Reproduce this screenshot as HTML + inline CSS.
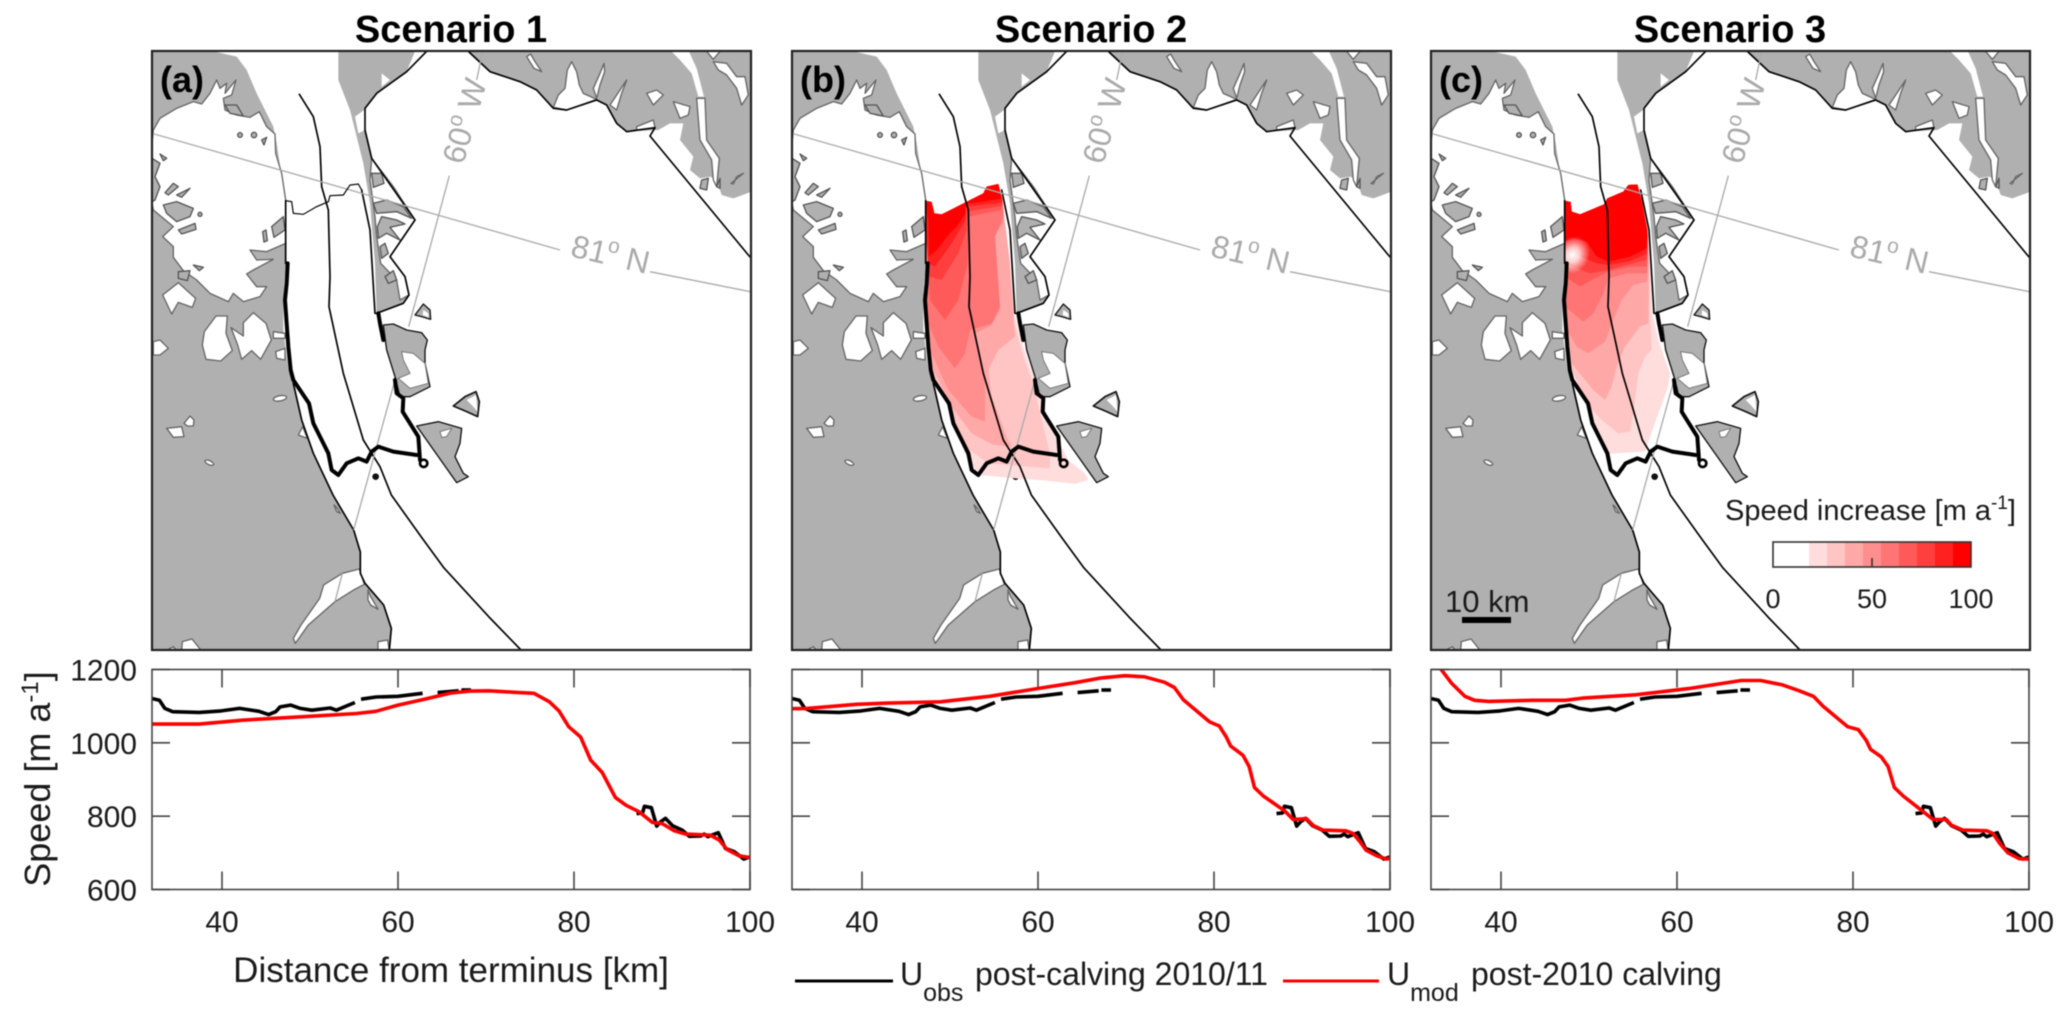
<!DOCTYPE html>
<html lang="en">
<head>
<meta charset="utf-8">
<title>Speed increase scenarios</title>
<style>
html,body{margin:0;padding:0;background:#fff}
svg{display:block;filter:blur(.45px)}
text{font-family:"Liberation Sans",sans-serif;fill:#1a1a1a}
.land{fill:#b0b0b0;stroke:none}
.hole{fill:#fff;stroke:#666;stroke-width:4;stroke-linejoin:round}
.isl{fill:#b0b0b0;stroke:#555;stroke-width:4;stroke-linejoin:round}
.coast{fill:none;stroke:#000;stroke-width:5;stroke-linejoin:round;stroke-linecap:round}
.grid{fill:none;stroke:#aaa;stroke-width:4}
.glabel{fill:#aaa;font-size:32px}
.thick{fill:none;stroke:#000;stroke-width:12;stroke-linejoin:round;stroke-linecap:round}
.border{fill:none;stroke:#222;stroke-width:2.2}
</style>
</head>
<body>
<svg id="figure" xmlns="http://www.w3.org/2000/svg" width="2067" height="1019" viewBox="0 0 2067 1019">
<defs>
<clipPath id="clip-map"><rect x="152" y="51" width="599" height="599"/></clipPath>
<clipPath id="clip-domain-b"><polygon points="990,512 1010,516 1018,550 1040,553 1110,518 1165,490 1175,470 1210,462 1222,510 1245,700 1258,850 1285,950 1320,1050 1345,1130 1395,1240 1420,1290 1470,1330 1480,1350 1440,1362 1350,1352 1260,1345 1150,1335 1110,1270 1070,1150 1010,1040 995,960 985,800 993,700"/></clipPath>
<clipPath id="clip-domain-c"><polygon points="103,152 122,156 125,185 150,193 222,163 232,145 280,125 295,105 322,103 335,150 352,240 368,490 385,570 420,670 415,710 375,820 345,905 230,912 180,790 125,660 108,480 105,300"/></clipPath>
<radialGradient id="white-spot"><stop offset="0" stop-color="#fff"/><stop offset=".4" stop-color="#fff" stop-opacity=".75"/><stop offset="1" stop-color="#fff" stop-opacity="0"/></radialGradient>

<g id="basemap" transform="translate(110,30) scale(.33333)">
  <path class="land" d="M126,64 L310,64 L380,80 L410,120 L440,190 L470,250 L490,290 L500,340 L512,420 L527,510 L527,700 L520,800 L520,900 L535,1020 L550,1060 L575,1170 L610,1270 L669,1395 L731,1500 L751,1566 L751,1630 L765,1660 L821,1725 L844,1795 L838,1860 L126,1860Z"/>
  <path class="land" d="M685,64 L915,64 L890,125 L800,190 L765,235 L765,300 L785,385 L915,570 L840,680 L885,740 L897,795 L880,820 L800,850 L795,700 L780,520 L760,400 L720,240 L685,150Z"/>
  <path class="land" d="M1075,64 L1140,125 L1230,155 L1280,180 L1330,235 L1370,240 L1460,210 L1490,225 L1520,280 L1550,305 L1645,300 L1680,280 L1720,280 L1710,330 L1750,380 L1740,420 L1770,445 L1800,440 L1820,450 L1835,495 L1870,505 L1925,485 L1925,64Z"/>

  <path class="hole" d="M130,300 L150,265 L200,235 L250,215 L275,222 L300,190 L320,150 L330,175 L350,160 L345,190 L378,150 L365,195 L340,205 L345,240 L380,255 L420,262 L448,245 L470,290 L495,312 L497,370 L515,430 L527,510 L527,640 L470,665 L420,660 L440,690 L490,688 L430,720 L410,732 L440,770 L470,770 L450,800 L400,815 L370,790 L355,815 L300,790 L260,750 L220,722 L190,682 L190,650 L158,620 L190,590 L130,540 L122,500 L122,380Z"/>
  <g class="isl">
    <path d="M160,525 L200,515 L250,535 L240,560 L200,575 L170,550Z"/>
    <path d="M165,488 L190,460 L205,470 L175,495Z"/>
    <path d="M200,495 L240,475 L215,502Z"/>
    <path d="M126,385 L150,400 L135,440 L150,470 L135,510 L126,515Z"/>
    <path d="M150,372 L170,385 L160,392Z"/>
    <path d="M458,605 L468,600 L472,632 L462,636Z"/>
    <path d="M485,590 L520,560 L525,600 L492,622Z"/>
    <path d="M345,225 L380,225 L400,258 L360,250Z"/>
    <path d="M205,600 L255,580 L258,598 L215,612Z"/>
    <path d="M250,705 L280,712 L268,722Z"/>
    <path d="M205,725 L240,722 L232,752 L205,745Z"/>
    <path d="M455,330 L470,322 L462,345Z"/>
    <circle cx="390" cy="315" r="7"/><circle cx="432" cy="315" r="8"/><circle cx="270" cy="553" r="6"/>
  </g>
  <g class="hole">
    <path d="M283,905 L318,858 L352,858 L348,910 L367,962 L332,993 L288,988 L277,945Z"/>
    <path d="M400,878 L430,848 L468,880 L484,930 L452,988 L425,962 L395,988 L383,945 L363,893 L400,918Z"/>
    <path d="M130,935 L150,930 L175,955 L150,975 L130,975Z"/>
    <path d="M158,795 L205,758 L257,805 L247,832 L205,817 L185,852Z"/>
    <path d="M490,905 L525,910 L525,925 L490,925Z"/>
    <path d="M497,965 L525,955 L525,990 L500,985Z"/>
    <ellipse cx="510" cy="1105" rx="20" ry="8" transform="rotate(-10 510 1105)"/>
    <path d="M170,1195 L215,1190 L222,1220 L190,1222Z"/>
    <path d="M222,1180 L240,1158 L252,1170 L250,1188 L232,1188Z"/>
    <ellipse cx="298" cy="1298" rx="14" ry="6" transform="rotate(25 298 1298)"/>
    <path d="M565,1215 L578,1190 L592,1225Z"/>
    <path d="M748,1617 L697,1630 L641,1665 L629,1705 L573,1785 L550,1825 L556,1840 L595,1785 L675,1715 L731,1680 L763,1663Z"/>
    <path d="M774,1680 L782,1700 L804,1738 L782,1725 L774,1710Z"/>
    <path d="M804,1862 L804,1835 L833,1830 L838,1862Z"/>
    <path d="M167,1862 L190,1850 L200,1862Z"/>
    <path d="M215,1862 L217,1835 L246,1827 L274,1862Z"/>
    <path d="M672,1425 L680,1445 L691,1450 L678,1430Z"/>
    <path d="M735,260 L765,238 L765,300 L745,310Z" stroke="none"/>
    <path d="M815,130 L840,150 L815,170Z" stroke="none"/>
    <path d="M785,385 L850,470 L915,570 L840,680 L885,740 L897,795 L870,810 L860,750 L812,700 L800,620 L795,560 L780,450Z"/>
  </g>
  <g class="isl">
    <path d="M790,520 L830,510 L880,530 L905,565 L860,545 L800,550Z"/>
    <path d="M802,590 L815,560 L860,570 L885,582 L840,592 L870,630 L830,610 L805,625Z"/>
    <path d="M785,430 L815,430 L822,460 L790,472Z"/>
    <path d="M825,740 L850,722 L860,750 L835,760Z"/>
    <path d="M810,650 L825,640 L835,670 L815,685Z"/>
  </g>
  <g class="hole">
    <path d="M1330,232 L1345,195 L1365,175 L1372,120 L1385,95 L1400,125 L1408,165 L1420,190 L1460,208 L1370,240Z"/>
    <path d="M1450,175 L1470,130 L1482,100 L1484,125 L1470,165 L1460,205Z"/>
    <path d="M1500,225 L1550,150 L1535,190 L1520,240Z"/>
    <path d="M1610,190 L1640,180 L1660,195 L1630,225Z"/>
    <path d="M1690,215 L1740,230 L1735,255 L1710,265Z"/>
    <path d="M1580,290 L1630,270 L1635,293 L1580,300Z"/>
    <path d="M1760,205 L1785,205 L1790,330 L1828,385 L1820,470 L1810,450 L1805,390 L1770,330Z"/>
    <path d="M1810,95 L1850,100 L1880,140 L1905,140 L1915,195 L1895,225 L1880,175 L1850,135 L1825,120Z"/>
    <path d="M1863,460 L1900,430 L1880,440 L1870,462Z"/>
    <path d="M1250,80 L1262,72 L1275,95 L1295,125 L1272,115Z"/>
    <path d="M1680,60 L1735,60 L1760,115 L1782,200 L1765,200 L1745,130 L1710,90Z" stroke="none"/>
    <path d="M1790,64 L1830,64 L1810,88Z"/>
  </g>
  <g class="isl">
    <path d="M1775,450 L1795,445 L1790,480 L1770,475Z"/>
    <path d="M1820,470 L1830,445 L1830,475Z"/>
  </g>
  <g>
    <path d="M820,885 L850,882 L890,900 L935,908 L952,930 L945,960 L945,1000 L960,1070 L900,1100 L870,1100 L855,1040 L830,960Z" fill="#b0b0b0" stroke="#111" stroke-width="4" stroke-linejoin="round"/>
    <path d="M875,965 L910,970 L945,1000 L955,1060 L900,1075 L865,1045 L900,1030 L880,990Z" fill="#fff" stroke="#777" stroke-width="3"/>
    <path d="M1030,1128 L1065,1100 L1098,1085 L1108,1115 L1103,1160 L1070,1145Z" fill="#b0b0b0" stroke="#111" stroke-width="5" stroke-linejoin="round"/>
    <path d="M1070,1110 L1098,1095 L1103,1145 L1085,1125Z" fill="#fff"/>
    <path d="M920,1188 L985,1175 L1055,1195 L1050,1240 L1035,1280 L1060,1330 L1075,1340 L1040,1358Z" fill="#b0b0b0" stroke="#111" stroke-width="4" stroke-linejoin="round"/>
    <path d="M990,1205 L1025,1195 L1010,1220 L995,1222Z" fill="#fff" stroke="#777" stroke-width="3"/>
    <path d="M915,855 L940,822 L960,840 L962,868 L935,860Z" fill="#b0b0b0" stroke="#111" stroke-width="4" stroke-linejoin="round"/>
    <path d="M940,840 L955,850 L955,862 L938,855Z" fill="#fff"/>
    <circle cx="797" cy="1340" r="10" fill="#111"/>
  </g>
  <path class="coast" d="M550,1060 L575,1170 L610,1270 L669,1395 L731,1500 L751,1566 L751,1630 L765,1660 L821,1725 L844,1795 L838,1860"/>
  <path class="coast" d="M950,64 L890,125 L800,190 L765,235 L765,300 L785,385 L915,570 L840,680 L885,740 L897,795 L880,820 L800,850"/>
  <path class="coast" d="M1075,64 L1140,125 L1230,155 L1280,180 L1330,235 L1370,240 L1460,210 L1490,225 L1520,280 L1550,305 L1635,293 L1620,318 L1915,675 L1930,692"/>
</g>

<g id="overlay" transform="translate(110,30) scale(.33333)">
  <path class="coast" d="M568,193 L610,260 L630,350 L635,470 L655,540 L660,740 L657,830 L700,1030 L760,1230 L810,1310 L844,1395 L934,1521 L1002,1614 L1137,1761 L1233,1860"/>
  <path class="coast" d="M527,512 L527,700"/>
  <path class="coast" d="M755,480 L780,600 L795,850 L805,850"/>
  <path class="grid" d="M126,310 L1350,660"/>
  <path class="grid" d="M1620,725 L1925,786"/>
  <path class="grid" d="M1100,150 L1118,64"/>
  <path class="grid" d="M1018,437 L896,890"/>
  <path class="grid" d="M855,1050 L731,1500"/>
  <path class="grid" d="M697,1630 L675,1715"/>
  <path class="thick" d="M533,700 L530,760 L525,810 L530,880 L535,950 L542,1020 L550,1050 L570,1080 L597,1120 L610,1180 L630,1220 L655,1270 L665,1320 L685,1335 L710,1300 L745,1285 L770,1295 L785,1265 L805,1250 L850,1265 L920,1275"/>
  <path class="thick" d="M930,1290 L925,1220 L878,1145 L880,1105 L860,1090 L855,1050"/>
  <circle cx="941" cy="1300" r="11" fill="none" stroke="#000" stroke-width="8"/>
  <path class="thick" d="M805,850 L810,880 L820,930"/>
</g>
</defs>

<text x="451" y="42" text-anchor="middle" font-size="38" font-weight="bold" style="fill:#000">Scenario 1</text>
<text x="1091" y="42" text-anchor="middle" font-size="38" font-weight="bold" style="fill:#000">Scenario 2</text>
<text x="1730" y="42" text-anchor="middle" font-size="38" font-weight="bold" style="fill:#000">Scenario 3</text>

<g>
  <g clip-path="url(#clip-map)">
    <use href="#basemap"/>
    <use href="#overlay"/>
    <path transform="translate(110,30) scale(.33333)" fill="none" stroke="#000" stroke-width="3.5" d="M527,512 L545,515 L550,550 L580,553 L620,530 L655,515 L660,497 L700,495 L720,465 L745,462 L755,480"/>
    <text class="glabel" transform="translate(608,265) rotate(13)" text-anchor="middle">81<tspan font-size="21" dy="-13">o</tspan><tspan dy="13"> N</tspan></text>
    <text class="glabel" transform="translate(475,124) rotate(-74)" text-anchor="middle">60<tspan font-size="21" dy="-13">o</tspan><tspan dy="13"> W</tspan></text>
  </g>
  <rect class="border" x="152" y="51" width="599" height="599"/>
  <text x="160" y="92" font-size="36" font-weight="bold" style="fill:#000">(a)</text>
</g>

<g transform="translate(640,0)">
  <g clip-path="url(#clip-map)">
    <use href="#basemap"/>
    <g transform="translate(-45,30) scale(.33333)">
    <g clip-path="url(#clip-domain-b)">
      <polygon fill="#ffdddd" points="980,450 1230,450 1245,700 1258,850 1285,950 1320,1050 1345,1130 1395,1240 1420,1290 1470,1330 1480,1350 1440,1362 1350,1352 1260,1345 1150,1335 1110,1270 1070,1150 1010,1040 995,960 985,800"/>
      <polygon fill="#ffc4c4" points="980,450 1230,450 1245,700 1258,880 1285,980 1315,1060 1340,1170 1365,1270 1365,1315 1300,1310 1180,1300 1110,1250 1070,1150 1010,1040 998,950"/>
      <polygon fill="#ffa8a8" points="980,450 1230,450 1245,700 1260,920 1210,960 1180,1020 1190,1100 1235,1220 1250,1250 1195,1245 1130,1210 1070,1130 1005,1000"/>
      <polygon fill="#ff8e8e" points="980,450 1230,450 1225,580 1195,620 1210,760 1215,840 1190,885 1140,910 1170,1060 1170,1175 1130,1160 1060,1080 1000,950"/>
      <polygon fill="#ff7474" points="980,450 1230,450 1225,560 1200,620 1215,830 1190,880 1125,900 1110,970 1080,1015 1030,950 1000,880"/>
      <polygon fill="#ff5a5a" points="980,450 1230,450 1220,540 1120,560 1118,700 1090,810 1050,870 1005,810 1000,700"/>
      <polygon fill="#ff3e3e" points="980,450 1230,450 1222,528 1115,545 1115,600 1090,670 1040,750 1003,740"/>
      <polygon fill="#ff2020" points="980,450 1230,450 1222,518 1112,530 1112,570 1070,640 1020,710 1000,700"/>
      <polygon fill="#ff0000" points="980,450 1230,450 1222,506 1160,515 1112,522 1112,550 1085,590 1060,615 1025,660 1003,680 1000,570"/>
    </g>
    </g>
    <use href="#overlay"/>
    <text class="glabel" transform="translate(608,265) rotate(13)" text-anchor="middle">81<tspan font-size="21" dy="-13">o</tspan><tspan dy="13"> N</tspan></text>
    <text class="glabel" transform="translate(475,124) rotate(-74)" text-anchor="middle">60<tspan font-size="21" dy="-13">o</tspan><tspan dy="13"> W</tspan></text>
  </g>
  <rect class="border" x="152" y="51" width="599" height="599"/>
  <text x="160" y="92" font-size="36" font-weight="bold" style="fill:#000">(b)</text>
</g>

<g transform="translate(1279,0)">
  <g clip-path="url(#clip-map)">
    <use href="#basemap"/>
    <g transform="translate(251,150) scale(.33333)">
    <g clip-path="url(#clip-domain-c)">
      <polygon fill="#ffdddd" points="95,90 360,90 368,490 385,570 420,670 415,710 375,820 345,905 230,912 180,790 125,660 100,480"/>
      <polygon fill="#ffc4c4" points="95,90 360,90 360,490 365,600 345,620 325,670 310,790 300,845 265,850 215,810 170,760 125,660 100,480"/>
      <polygon fill="#ffa8a8" points="95,90 360,90 355,520 330,530 285,590 260,650 245,710 225,750 190,720 125,640 100,480"/>
      <polygon fill="#ff8e8e" points="95,90 360,90 352,395 310,405 275,450 250,510 225,575 175,610 140,590 105,530"/>
      <polygon fill="#ff7474" points="95,90 360,90 352,370 290,370 235,385 220,430 190,490 160,515 105,470"/>
      <polygon fill="#ff5a5a" points="95,90 360,90 350,350 300,350 235,365 185,390 150,410 105,380"/>
      <polygon fill="#ff3e3e" points="95,90 360,90 350,330 290,345 235,360 180,370 105,340"/>
      <polygon fill="#ff2020" points="95,90 360,90 350,312 295,335 235,345 200,340 105,300"/>
      <polygon fill="#ff0000" points="95,90 360,90 350,295 300,320 235,335 200,320 170,275 130,265 105,275"/>
      <ellipse cx="128" cy="315" rx="50" ry="58" fill="url(#white-spot)" transform="rotate(30 128 315)"/>
    </g>
    </g>
    <use href="#overlay"/>
    <text class="glabel" transform="translate(608,265) rotate(13)" text-anchor="middle">81<tspan font-size="21" dy="-13">o</tspan><tspan dy="13"> N</tspan></text>
    <text class="glabel" transform="translate(475,124) rotate(-74)" text-anchor="middle">60<tspan font-size="21" dy="-13">o</tspan><tspan dy="13"> W</tspan></text>
  </g>
  <rect class="border" x="152" y="51" width="599" height="599"/>
  <text x="160" y="92" font-size="36" font-weight="bold" style="fill:#000">(c)</text>
</g>

<g>
  <text x="1445" y="612" font-size="31">10 km</text>
  <rect x="1462" y="617" width="49" height="6" fill="#000"/>
</g>

<g>
  <text x="1725" y="520" font-size="29">Speed increase [m a<tspan font-size="19" dy="-11">-1</tspan><tspan dy="11">]</tspan></text>
  <rect x="1773" y="542" width="36" height="25" fill="#fff"/>
  <rect x="1809" y="542" width="18.5" height="25" fill="#ffdddd"/>
  <rect x="1827" y="542" width="18.5" height="25" fill="#ffc4c4"/>
  <rect x="1845" y="542" width="18.5" height="25" fill="#ffa8a8"/>
  <rect x="1863" y="542" width="18" height="25" fill="#ff8e8e"/>
  <rect x="1881" y="542" width="18" height="25" fill="#ff7474"/>
  <rect x="1899" y="542" width="18" height="25" fill="#ff5a5a"/>
  <rect x="1917" y="542" width="18" height="25" fill="#ff3e3e"/>
  <rect x="1935" y="542" width="18" height="25" fill="#ff2020"/>
  <rect x="1953" y="542" width="18" height="25" fill="#ff0000"/>
  <rect x="1773" y="542" width="198" height="25" fill="none" stroke="#333" stroke-width="1.6"/>
  <line x1="1872" x2="1872" y1="558" y2="567" stroke="#333" stroke-width="1.6"/>
  <text x="1773" y="608" font-size="27" text-anchor="middle">0</text>
  <text x="1872" y="608" font-size="27" text-anchor="middle">50</text>
  <text x="1971" y="608" font-size="27" text-anchor="middle">100</text>
</g>

<g id="profiles"></g>

<text transform="translate(50,779) rotate(-90)" text-anchor="middle" font-size="36">Speed [m a<tspan font-size="24" dy="-12">-1</tspan><tspan dy="12">]</tspan></text>
<text x="451" y="982" text-anchor="middle" font-size="35">Distance from terminus [km]</text>

<g>
  <line x1="795" x2="893" y1="981" y2="981" stroke="#000" stroke-width="3"/>
  <text x="900" y="985" font-size="32">U<tspan font-size="25" dy="16">obs</tspan><tspan dy="-16" x="975">post-calving 2010/11</tspan></text>
  <line x1="1283" x2="1379" y1="981" y2="981" stroke="#f00" stroke-width="3"/>
  <text x="1387" y="985" font-size="32">U<tspan font-size="25" dy="16">mod</tspan><tspan dy="-16" x="1471">post-2010 calving</tspan></text>
</g>
</svg>

<script>
const tickKm = [40, 60, 80, 100];
const tickSpeed = [600, 800, 1000, 1200];
const obsKm = [32, 32.9, 33.5, 34.4, 37.4, 39.9, 42, 44.2, 45.3, 46.1, 46.6, 47.8, 48.9, 50.2, 52.3, 53, 55.1, null, 55.8, 57.5, 60, 62.8, null, 64.5, 66.9, null, 67.2, 68.3, null, 87.1, 87.8, 88, 88.8, 89.4, 89.85, 90.4, 91.2, 92.3, 93.1, 94.4, 94.8, 95.2, 96.4, 97.2, 98.2, 99.3, 100];
const obsSpeed = [1121, 1116, 1094, 1085, 1083, 1087, 1094, 1086, 1077, 1085, 1098, 1103, 1094, 1089, 1095, 1089, 1110, null, 1119, 1125, 1127, 1135, null, 1137, 1142, null, 1144, 1144, null, 807, 809, 827, 823, 773, 785, 794, 774, 762, 745, 746, 751, 744, 755, 712, 703, 683, 689];
const modKmA = [32, 37.4, 42.5, 49, 55.3, 57.5, 60, 63, 66, 68.2, 70.3, 73.75, 75.45, 77.2, 78.3, 79.4, 80.75, 81.9, 83.2, 84.7, 85.9, 87.4, 88.9, 90, 91.4, 92.7, 95.5, 96.5, 97.4, 98.75, 100];
const modSpeedA = [1051, 1051, 1062, 1071, 1080, 1086, 1103, 1119, 1136, 1141, 1142, 1137, 1135, 1112, 1087, 1044, 1016, 953, 919, 851, 830, 812, 783, 780, 760, 751, 748, 735, 709, 692, 687];
const modKmB = [32, 33.8, 39.4, 43.6, 48.9, 54.5, 59.9, 64.2, 67.2, 69.9, 72.1, 74.4, 75.5, 76.5, 79.5, 80.6, 81.4, 81.9, 83.3, 84, 84.6, 85.6, 88, 89, 90.5, 91.3, 92.4, 95, 95.8, 96.6, 97.3, 98.5, 99.6, 100];
const modSpeedB = [1093, 1094, 1105, 1109, 1112, 1127, 1148, 1164, 1177, 1183, 1180, 1165, 1151, 1118, 1057, 1046, 1016, 991, 966, 935, 878, 855, 815, 791, 793, 774, 762, 760, 753, 730, 707, 692, 683, 685];
const modKmC = [32.6, 33.2, 34.4, 35.9, 37, 38.6, 43.5, 47.3, 49.3, 55.3, 61.3, 67.3, 69.5, 72, 73.9, 75.5, 76.6, 79.4, 80.6, 81.5, 82, 83.2, 84, 84.7, 85.7, 88, 89.1, 90.6, 91.2, 92.5, 95.2, 95.9, 96.7, 97.6, 98.9, 100];
const modSpeedC = [1225, 1200, 1162, 1127, 1116, 1113, 1116, 1116, 1122, 1131, 1148, 1170, 1170, 1158, 1142, 1127, 1100, 1044, 1036, 1007, 982, 962, 935, 878, 855, 812, 791, 791, 775, 762, 760, 753, 725, 700, 684, 683];

const SVGNS = 'http://www.w3.org/2000/svg';
const axisTop = 669.5, axisBottom = 889.5, axisWidth = 598;
const speedMin = 600, speedMax = 1200, kmMax = 100, pxPerKm = 8.8;
const kmMin = kmMax - axisWidth / pxPerKm;
const root = document.getElementById('profiles');

function mk(tag, parent) {
  const el = document.createElementNS(SVGNS, tag);
  parent.appendChild(el);
  return el;
}
function ys(v) { return axisTop + (speedMax - v) / (speedMax - speedMin) * (axisBottom - axisTop); }
function xs(km, left) { return left + (km - kmMin) * pxPerKm; }

function pointsFor(kms, vals, left) {
  const segs = [[]];
  kms.forEach(function (k, i) {
    if (k === null) { segs.push([]); return; }
    segs[segs.length - 1].push(xs(k, left).toFixed(1) + ',' + ys(vals[i]).toFixed(1));
  });
  return segs;
}

function drawAxes(left, key, showY) {
  const g = mk('g', root);
  
  

  const clipId = 'clip-profile-' + key;
  const cp = mk('clipPath', g);
  cp.setAttribute('id', clipId);
  const cr = mk('rect', cp);
  cr.setAttribute('x', left);
  cr.setAttribute('y', axisTop);
  cr.setAttribute('width', axisWidth);
  cr.setAttribute('height', axisBottom - axisTop);

  tickKm.forEach(function (k) {
    const x = xs(k, left);
    [[axisBottom, axisBottom - 18], [axisTop, axisTop + 18]].forEach(function (p) {
      const t = mk('line', g);
      
      
      t.setAttribute('x1', x);
      t.setAttribute('x2', x);
      t.setAttribute('y1', p[0]);
      t.setAttribute('y2', p[1]);
      t.setAttribute('stroke', '#444');
      t.setAttribute('stroke-width', '1.6');
    });
    const lab = mk('text', g);
    
    
    lab.setAttribute('x', x);
    lab.setAttribute('y', 932);
    lab.setAttribute('text-anchor', 'middle');
    lab.setAttribute('font-size', '30');
    lab.textContent = String(k);
  });

  tickSpeed.forEach(function (v) {
    const y = ys(v);
    [[left, left + 18], [left + axisWidth, left + axisWidth - 18]].forEach(function (p) {
      const t = mk('line', g);
      
      
      t.setAttribute('x1', p[0]);
      t.setAttribute('x2', p[1]);
      t.setAttribute('y1', y);
      t.setAttribute('y2', y);
      t.setAttribute('stroke', '#444');
      t.setAttribute('stroke-width', '1.6');
    });
    if (showY) {
      const lab = mk('text', g);
      
      
      lab.setAttribute('x', left - 15);
      lab.setAttribute('y', y + 11);
      lab.setAttribute('text-anchor', 'end');
      lab.setAttribute('font-size', '30');
      lab.textContent = String(v);
    }
  });
  return { g: g, clipId: clipId };
}

function drawSeries(ax, left, key, modKm, modSpeed) {
  pointsFor(obsKm, obsSpeed, left).forEach(function (pts) {
    const l = mk('polyline', ax.g);
    
    
    l.setAttribute('points', pts.join(' '));
    l.setAttribute('fill', 'none');
    l.setAttribute('stroke', '#000');
    l.setAttribute('stroke-width', '3.6');
    l.setAttribute('stroke-linejoin', 'round');
    l.setAttribute('clip-path', 'url(#' + ax.clipId + ')');
  });
  pointsFor(modKm, modSpeed, left).forEach(function (pts) {
    const l = mk('polyline', ax.g);
    
    
    l.setAttribute('points', pts.join(' '));
    l.setAttribute('fill', 'none');
    l.setAttribute('stroke', '#f00');
    l.setAttribute('stroke-width', '3.6');
    l.setAttribute('stroke-linejoin', 'round');
    l.setAttribute('clip-path', 'url(#' + ax.clipId + ')');
  });
  const frame = mk('rect', ax.g);
  
  
  frame.setAttribute('x', left);
  frame.setAttribute('y', axisTop);
  frame.setAttribute('width', axisWidth);
  frame.setAttribute('height', axisBottom - axisTop);
  frame.setAttribute('fill', 'none');
  frame.setAttribute('stroke', '#444');
  frame.setAttribute('stroke-width', '1.6');
}

const axA = drawAxes(152, 'a', true);
drawSeries(axA, 152, 'a', modKmA, modSpeedA);
const axB = drawAxes(792, 'b', false);
drawSeries(axB, 792, 'b', modKmB, modSpeedB);
const axC = drawAxes(1431, 'c', false);
drawSeries(axC, 1431, 'c', modKmC, modSpeedC);
</script>
</body>
</html>
